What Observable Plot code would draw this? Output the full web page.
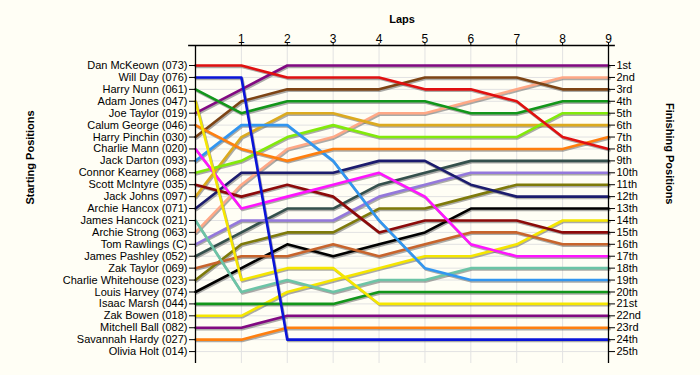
<!DOCTYPE html>
<html>
<head>
<meta charset="utf-8">
<script src="https://cdn.jsdelivr.net/npm/d3@7"></script>
<script src="https://cdn.jsdelivr.net/npm/@observablehq/plot@0.6"></script>
<style>
  html, body { margin: 0; padding: 0; background: #fffef5; }
  #chart svg { display: block; }
</style>
</head>
<body>
<div id="chart"></div>
<script>
// ---- data ----
const laps = [0, 1, 2, 3, 4, 5, 6, 7, 8, 9];
const lapTicks = [1, 2, 3, 4, 5, 6, 7, 8, 9];

const drivers = [
  "Dan McKeown (073)", "Will Day (076)", "Harry Nunn (061)", "Adam Jones (047)",
  "Joe Taylor (019)", "Calum George (046)", "Harry Pinchin (030)", "Charlie Mann (020)",
  "Jack Darton (093)", "Connor Kearney (068)", "Scott McIntyre (035)", "Jack Johns (097)",
  "Archie Hancox (071)", "James Hancock (021)", "Archie Strong (063)", "Tom Rawlings (C)",
  "James Pashley (052)", "Zak Taylor (069)", "Charlie Whitehouse (023)", "Louis Harvey (074)",
  "Isaac Marsh (044)", "Zak Bowen (018)", "Mitchell Ball (082)", "Savannah Hardy (027)",
  "Olivia Holt (014)"
];

const driverColors = [
  "#e01010", "#0a14d8", "#12961a", "#f5e600",
  "#820a82", "#ff7f0e", "#7d4414", "#ff14ff",
  "#3296f0", "#82ea0a", "#8c0a0a", "#dcaa1e",
  "#1c1c6e", "#6cc4a6", "#ffa886", "#9478dc",
  "#34504c", "#c8642c", "#7e7a0a", "#000000",
  "#12961a", "#f5e600", "#820a82", "#ff7f0e",
  "#999999"
];

// position of each driver at laps 0..9 (null = no data)
const lapPositions = [
  [1, 1, 2, 2, 2, 3, 3, 4, 7, 8],
  [2, 2, 24, 24, 24, 24, 24, 24, 24, 24],
  [3, 5, 4, 4, 4, 4, 5, 5, 4, 4],
  [4, 19, 18, 18, 21, 21, 21, 21, 21, 21],
  [5, 3, 1, 1, 1, 1, 1, 1, 1, 1],
  [6, 8, 9, 8, 8, 8, 8, 8, 8, 7],
  [7, 4, 3, 3, 3, 2, 2, 2, 3, 3],
  [8, 13, 12, 11, 10, 12, 16, 17, 17, 17],
  [9, 6, 6, 9, 14, 18, 19, 19, 19, 19],
  [10, 9, 7, 6, 7, 7, 7, 7, 5, 5],
  [11, 12, 11, 12, 15, 14, 14, 14, 15, 15],
  [12, 7, 5, 5, 6, 6, 6, 6, 6, 6],
  [13, 10, 10, 10, 9, 9, 11, 12, 12, 12],
  [14, 20, 19, 20, 19, 19, 18, 18, 18, 18],
  [15, 11, 8, 7, 5, 5, 4, 3, 2, 2],
  [16, 14, 14, 14, 12, 11, 10, 10, 10, 10],
  [17, 15, 13, 13, 11, 10, 9, 9, 9, 9],
  [18, 17, 17, 16, 17, 16, 15, 15, 16, 16],
  [19, 16, 15, 15, 13, 13, 12, 11, 11, 11],
  [20, 18, 16, 17, 16, 15, 13, 13, 13, 13],
  [21, 21, 21, 21, 20, 20, 20, 20, 20, 20],
  [22, 22, 20, 19, 18, 17, 17, 16, 14, 14],
  [23, 23, 22, 22, 22, 22, 22, 22, 22, 22],
  [24, 24, 23, 23, 23, 23, 23, 23, 23, 23],
  null
];

const finishLabels = [
  "1st", "2nd", "3rd", "4th", "5th", "6th", "7th", "8th", "9th", "10th",
  "11th", "12th", "13th", "14th", "15th", "16th", "17th", "18th", "19th", "20th",
  "21st", "22nd", "23rd", "24th", "25th"
];

const positionTicks = d3.range(1, 26);

// ---- build table (drawn last-starter first so front-runners sit on top) ----
const rows = [];
for (let i = drivers.length - 1; i >= 0; i--) {
  const p = lapPositions[i];
  if (!p) continue;
  laps.forEach((lap, j) => rows.push({ driver: drivers[i], lap, pos: p[j] }));
}

const yDomain = [-0.68, 26.0];
const font = "'Liberation Sans', Arial, sans-serif";

const chart = Plot.plot({
  width: 700,
  height: 375,
  marginLeft: 195,
  marginRight: 92,
  marginTop: 45,
  marginBottom: 12,
  style: { background: "#fffef5", fontFamily: font, fontSize: "11px", color: "#000", overflow: "visible" },
  x: { domain: [0, 9], axis: null },
  y: { domain: yDomain, reverse: true, axis: null },
  color: { domain: drivers, range: driverColors },
  marks: [
    Plot.gridX(lapTicks, { stroke: "#e2e2e2", strokeOpacity: 1 }),
    Plot.gridY(positionTicks, { stroke: "#e2e2e2", strokeOpacity: 1 }),
    // shadows
    Plot.line(rows, { x: "lap", y: "pos", z: "driver", stroke: "#666", strokeOpacity: 0.55, strokeWidth: 2.6, dx: 1, dy: 1.4 }),
    // colored lines
    Plot.line(rows, { x: "lap", y: "pos", z: "driver", stroke: "driver", strokeWidth: 2.6 }),
    // axis lines
    Plot.ruleX([0, 9], { stroke: "#000", strokeWidth: 1.3 }),
    Plot.ruleY([yDomain[0]], { stroke: "#000", strokeWidth: 1.6, x1: -0.15, x2: 9.15 }),
    Plot.axisX(lapTicks, { anchor: "top", label: null, tickSize: 3, tickPadding: 0, fontSize: 12 }),
    Plot.axisY(positionTicks, { anchor: "left", label: null, tickSize: 6, tickPadding: 2, tickFormat: d => drivers[d - 1] }),
    Plot.axisY(positionTicks, { anchor: "right", label: null, tickSize: 6, tickPadding: 2, tickFormat: d => finishLabels[d - 1] }),
    // titles
    Plot.text(["Laps"], { frameAnchor: "top", dy: -30, fontWeight: "bold", fontSize: 11 }),
    Plot.text(["Starting Positions"], { frameAnchor: "left", dx: -165, rotate: -90, fontWeight: "bold", fontSize: 11 }),
    Plot.text(["Finishing Positions"], { frameAnchor: "right", dx: 61, rotate: 90, fontWeight: "bold", fontSize: 11 })
  ]
});

document.getElementById("chart").appendChild(chart);
</script>
</body>
</html>
